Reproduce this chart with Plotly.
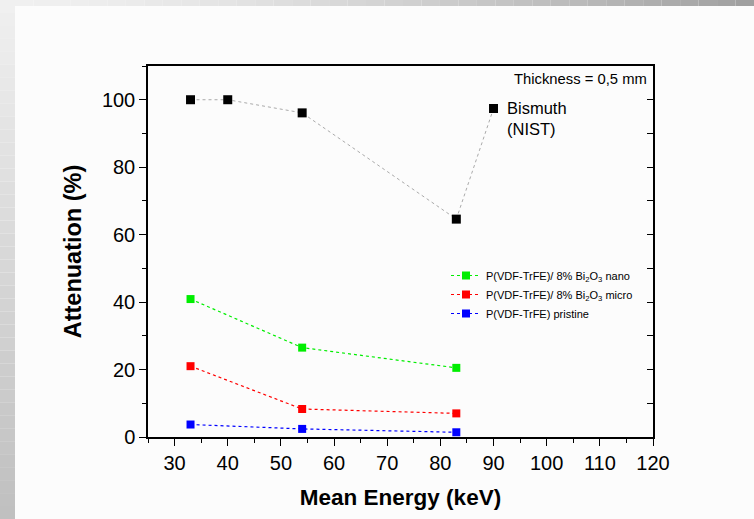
import plotly.graph_objects as go

# ---- data ----
energy_bi = [33, 40, 54, 83, 90]
atten_bi = [100.0, 100.0, 96.1, 64.6, 97.4]

energy = [33, 54, 83]
atten_nano = [40.9, 26.5, 20.5]
atten_micro = [21.0, 8.3, 7.0]
atten_pristine = [3.7, 2.4, 1.4]

names = ["P(VDF-TrFE)/ 8% Bi<sub>2</sub>O<sub>3</sub> nano",
         "P(VDF-TrFE)/ 8% Bi<sub>2</sub>O<sub>3</sub> micro",
         "P(VDF-TrFE) pristine"]
colors = ["#00ee00", "#ff0000", "#0000ff"]

x_ticks = [30, 40, 50, 60, 70, 80, 90, 100, 110, 120]
y_ticks = [0, 20, 40, 60, 80, 100]

W, H = 754, 519
L, R, T, B = 148, 653, 66, 437

def px(x):
    return (x - L) / (R - L)

def py(y):
    return (B - y) / (B - T)

fig = go.Figure()

fig.add_trace(go.Scatter(
    x=energy_bi, y=atten_bi, mode="lines+markers",
    line=dict(color="#aaaaaa", width=1, dash="dot"),
    marker=dict(symbol="square", size=9, color="black"),
    showlegend=False))

for name, vals, c in zip(names, [atten_nano, atten_micro, atten_pristine], colors):
    fig.add_trace(go.Scatter(
        x=energy, y=vals, mode="lines+markers", name=name,
        line=dict(color=c, width=1.2, dash="dot"),
        marker=dict(symbol="square", size=8, color=c)))

# invisible trace for right axis
fig.add_trace(go.Scatter(x=[None], y=[None], yaxis="y2", showlegend=False, hoverinfo="skip"))

font_family = "Liberation Sans, Arial, sans-serif"

shapes = []
# left gradient strip
n = 40
for i in range(n):
    y0p = i * H / n
    y1p = (i + 1) * H / n
    v = int(240 - (240 - 192) * (i / (n - 1)))
    shapes.append(dict(type="rect", xref="paper", yref="paper",
                       x0=px(0), x1=px(15), y0=py(y0p), y1=py(y1p),
                       fillcolor=f"rgb({v},{v},{v})", line=dict(width=0), layer="below"))
# top gradient strip
for i in range(n):
    x0p = 15 + i * (W - 15) / n
    x1p = 15 + (i + 1) * (W - 15) / n
    v = int(240 - (240 - 160) * (i / (n - 1)) ** 1.5)
    shapes.append(dict(type="rect", xref="paper", yref="paper",
                       x0=px(x0p), x1=px(x1p), y0=py(0), y1=py(6),
                       fillcolor=f"rgb({v},{v},{v})", line=dict(width=0), layer="below"))

fig.update_layout(
    width=W, height=H,
    margin=dict(l=L, r=W - R, t=T, b=H - B),
    paper_bgcolor="#fcfcfc", plot_bgcolor="rgba(0,0,0,0)",
    font=dict(family=font_family, color="black"),
    shapes=shapes,
    xaxis=dict(range=[25, 120], tickvals=x_ticks, showgrid=False, zeroline=False,
               showline=True, linecolor="black", linewidth=1.5, mirror=True,
               ticks="outside", ticklen=7, tickwidth=1.3, tickcolor="black",
               minor=dict(dtick=5, tick0=0, ticks="outside", ticklen=4, tickwidth=1.3, tickcolor="black", showgrid=False),
               tickfont=dict(size=20),
               title=dict(text="<b>Mean Energy (keV)</b>", font=dict(size=22.5), standoff=16)),
    yaxis=dict(range=[0, 110], tickvals=y_ticks, showgrid=False, zeroline=False,
               showline=True, linecolor="black", linewidth=1.5,
               ticks="outside", ticklen=7, tickwidth=1.3, tickcolor="black",
               minor=dict(dtick=10, tick0=0, ticks="outside", ticklen=4, tickwidth=1.3, tickcolor="black", showgrid=False),
               tickfont=dict(size=20),
               title=dict(text="<b>Attenuation (%)</b>", font=dict(size=23.5), standoff=14)),
    yaxis2=dict(range=[0, 110], overlaying="y", side="right", anchor="x",
                showgrid=False, zeroline=False, showticklabels=False,
                showline=True, linecolor="black", linewidth=1.5,
                ticks="inside", tickvals=y_ticks, ticklen=6, tickwidth=1.3, tickcolor="black",
                minor=dict(dtick=10, tick0=0, ticks="inside", ticklen=6, tickwidth=1.3, tickcolor="black", showgrid=False)),
    legend=dict(x=px(446), y=py(261), xanchor="left", yanchor="top",
                bgcolor="rgba(0,0,0,0)", font=dict(size=11), tracegroupgap=0,
                itemwidth=30),
    annotations=[
        dict(text="Thickness = 0,5 mm", xref="paper", yref="paper",
             x=px(649), y=py(79), xanchor="right", yanchor="middle",
             showarrow=False, font=dict(size=14.8)),
        dict(text="Bismuth<br>(NIST)", xref="paper", yref="paper",
             x=px(505), y=py(97), xanchor="left", yanchor="top", align="left",
             showarrow=False, font=dict(size=16.5)),
    ],
)

fig.write_html("out.html", config={"displayModeBar": False},
               post_script="document.body.style.margin='0';document.body.style.padding='0';")
